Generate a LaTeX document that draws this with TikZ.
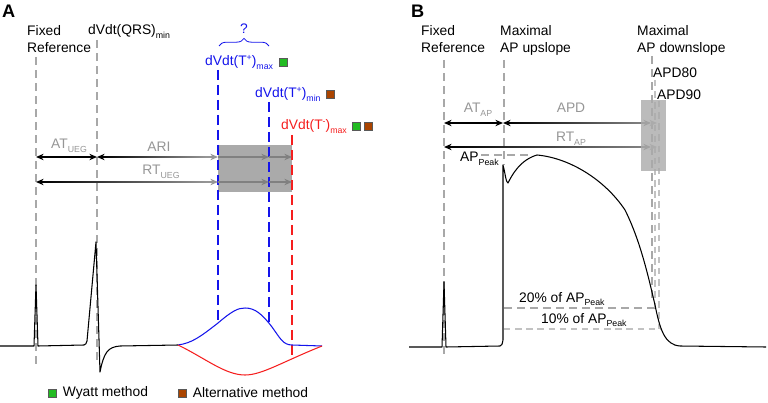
\documentclass[tikz,border=0pt]{standalone}
\usepackage{fontspec}
\setmainfont{Liberation Sans}
\usetikzlibrary{positioning,calc,arrows.meta,decorations.pathreplacing}

\definecolor{wyattgreen}{RGB}{34,187,34}
\definecolor{altbrown}{RGB}{170,68,0}
\definecolor{lblgray}{RGB}{150,150,150}
\definecolor{refgray}{RGB}{168,168,168}
\definecolor{boxgray}{RGB}{170,170,170}
\definecolor{tblue}{RGB}{20,20,235}
\definecolor{tred}{RGB}{245,30,30}

\newcommand{\subtxt}[1]{\raisebox{-.45ex}{\fontsize{7.5}{8}\selectfont #1}}
\newcommand{\suptxt}[1]{\raisebox{.75ex}{\fontsize{7.5}{8}\selectfont #1}}

\tikzset{
  refline/.style={draw=refgray,line width=1pt,dash pattern=on 6.8pt off 4.3pt},
  thinref/.style={draw=refgray!70,line width=.9pt,dash pattern=on 5.5pt off 4pt},
  tline/.style={line width=1.2pt,dash pattern=on 8.5pt off 4.3pt},
  trace/.style={line width=.9pt,line join=round},
  dbl/.style={line width=1pt,{Stealth[length=6.5pt,width=5.5pt]}-{Stealth[length=6.5pt,width=5.5pt]}},
  sgl/.style={line width=1pt,-{Stealth[length=6.5pt,width=5.5pt]}},
  sqbox/.style={draw=gray!70!black,line width=.5pt,minimum size=6.8pt},
  lbl/.style={text=lblgray,anchor=base}
}

\begin{document}
\begin{tikzpicture}[x=0.03cm,y=-0.03cm,
    every node/.style={inner sep=0pt},
    font=\fontsize{11.8}{14.5}\selectfont]
  \useasboundingbox (0,0) rectangle (768,403);

  % ---- panel A ----
  \node[anchor=north west,font=\bfseries\fontsize{15.5}{16}\selectfont] (lblA) at (2,5) {A};
  \node[anchor=north west,align=left] (fixA) at (27,25) {Fixed\\Reference};
  \node[anchor=base west] (qrs) at (88,35) {dVdt(QRS)\subtxt{min}};
  \node[text=tblue] (quest) at (244,29) {?};
  \node[text=tblue,anchor=base west] (tpmax) at (205,66) {dVdt(T\suptxt{+})\subtxt{max}};
  \node[text=tblue,anchor=base west] (tpmin) at (255,98) {dVdt(T\suptxt{+})\subtxt{min}};
  \node[text=tred,anchor=base west] (tmmax) at (281,130) {dVdt(T\suptxt{-})\subtxt{max}};
  \node[sqbox,fill=wyattgreen,right=4.5pt of tpmax] (sq1) {};
  \node[sqbox,fill=altbrown,right=4.5pt of tpmin] (sq2) {};
  \node[sqbox,fill=wyattgreen,right=4.5pt of tmmax] (sq3) {};
  \node[sqbox,fill=altbrown,right=3pt of sq3] (sq4) {};

  \coordinate (brL) at (219,46);
  \coordinate (brR) at (269,46);
  \draw[tblue,line width=.7pt,decorate,decoration={brace,amplitude=6.5pt}] (brL) -- (brR);

  \fill[boxgray] (218,145) rectangle (292,192);

  \coordinate (fA1) at (36,57);   \coordinate (fA2) at (36,365);
  \coordinate (qA1) at (97,40);   \coordinate (qA2) at (97,362);
  \coordinate (bA1) at (218,70);  \coordinate (bA2) at (218,323);
  \coordinate (cA1) at (269,102); \coordinate (cA2) at (269,322);
  \coordinate (rA1) at (292,135); \coordinate (rA2) at (292,357);
  \foreach \from/\to in {fA1/fA2, qA1/qA2}
    \draw[refline] (\from) -- (\to);
  \draw[tline,tblue] (bA1) -- (bA2);
  \draw[tline,tblue] (cA1) -- (cA2);
  \draw[tline,tred] (rA1) -- (rA2);

  \node[lbl] (atueg) at (69,149) {AT\subtxt{UEG}};
  \node[lbl] (ari) at (159,152) {ARI};
  \node[lbl] (rtueg) at (161,175) {RT\subtxt{UEG}};

  \coordinate (a1) at (36,157);  \coordinate (a2) at (97,157);
  \coordinate (a3) at (218,157); \coordinate (a4) at (269,157);
  \coordinate (a5) at (292,157);
  \coordinate (c1) at (36,182);  \coordinate (c3) at (218,182);
  \coordinate (c4) at (269,182); \coordinate (c5) at (292,182);
  \draw[dbl] (a1) -- (a2);
  \draw[dbl,lblgray,{Stealth[length=6.5pt,width=5.5pt,black]}-{Stealth[length=6.5pt,width=5.5pt]}] (a2) -- (a3);
  \shade[left color=black,right color=lblgray] ($(a2)+(5,-.6)$) rectangle ($(a3)+(-12,.6)$);
  \draw[dbl,lblgray,{Stealth[length=6.5pt,width=5.5pt,black]}-{Stealth[length=6.5pt,width=5.5pt]}] (c1) -- (c3);
  \shade[left color=black,right color=lblgray] ($(c1)+(5,-.6)$) rectangle ($(c3)+(-12,.6)$);
  \foreach \from/\to in {a3/a4, a4/a5, c3/c4, c4/c5}
    \draw[sgl,gray] (\from) -- (\to);

  % ECG trace and T waves
  \draw[trace] (0,346) -- (34,346) -- (36,285) -- (38,346) -- (84,345)
    .. controls (86,344) .. (87,341) -- (96,242) -- (100,372)
    .. controls (104,352) and (108,347) .. (120,346) -- (178,345);
  \draw[trace,tblue] (178,345) .. controls (192,343) and (200,337) .. (218,323)
    .. controls (232,311) and (238,308) .. (245,308)
    .. controls (255,308) and (262,314) .. (272,327)
    .. controls (280,338) and (283,345) .. (292,345) -- (322,346);
  \draw[trace,tred] (178,345) .. controls (205,358) and (225,375) .. (245,375)
    .. controls (262,375) and (282,362) .. (322,346);

  \node[sqbox,fill=wyattgreen] (legW) at (52.5,393) {};
  \node[right=5pt of legW] (legWt) {Wyatt method};
  \node[sqbox,fill=altbrown] (legA) at (182.5,393) {};
  \node[right=5pt of legA] (legAt) {Alternative method};

  % ---- panel B ----
  \node[anchor=north west,font=\bfseries\fontsize{15.5}{16}\selectfont] (lblB) at (411,5) {B};
  \node[anchor=north west,align=left] (fixB) at (421,25) {Fixed\\Reference};
  \node[anchor=north west,align=left] (upB) at (500,25) {Maximal\\AP upslope};
  \node[anchor=north west,align=left] (downB) at (637,25) {Maximal\\AP downslope};
  \node[anchor=base west] (apd80) at (653,78) {APD80};
  \node[anchor=base west] (apd90) at (657,100) {APD90};

  \coordinate (fB1) at (444,60);  \coordinate (fB2) at (444,355);
  \coordinate (uB1) at (504,60);  \coordinate (uB2) at (504,165);
  \coordinate (dB1) at (652,56);  \coordinate (dB2) at (652,300);
  \coordinate (p80a) at (655,80); \coordinate (p80b) at (655,308);
  \coordinate (p90a) at (659,101); \coordinate (p90b) at (659,329);
  \coordinate (pk1) at (481,155); \coordinate (pk2) at (531,155);
  \coordinate (l20a) at (504,308); \coordinate (l20b) at (656,308);
  \coordinate (l10a) at (504,329); \coordinate (l10b) at (660,329);
  \foreach \from/\to in {fB1/fB2, uB1/uB2, dB1/dB2, pk1/pk2, l20a/l20b}
    \draw[refline] (\from) -- (\to);
  \foreach \from/\to in {p80a/p80b, p90a/p90b, l10a/l10b}
    \draw[thinref] (\from) -- (\to);

  \node[lbl] (atap) at (478,113) {AT\subtxt{AP}};
  \node[lbl] (apd) at (571,113) {APD};
  \node[lbl] (rtap) at (571,142) {RT\subtxt{AP}};
  \node[anchor=base west] (appk) at (460,162) {AP\subtxt{Peak}};
  \node[anchor=base west] (pc20) at (519,302) {20\% of AP\subtxt{Peak}};
  \node[anchor=base west] (pc10) at (541,323) {10\% of AP\subtxt{Peak}};

  \coordinate (e1) at (444,123); \coordinate (e2) at (503,123);
  \coordinate (e3) at (651,123); \coordinate (e4) at (657,123);
  \coordinate (g1) at (444,147); \coordinate (g3) at (651,147);
  \coordinate (g4) at (657,147);
  \draw[dbl] (e1) -- (e2);
  \draw[dbl,gray,{Stealth[length=6.5pt,width=5.5pt,black]}-{Stealth[length=6.5pt,width=5.5pt]}] (e2) -- (e3);
  \shade[left color=black,right color=gray] ($(e2)+(5,-.6)$) rectangle ($(e3)+(-12,.6)$);
  \draw[dbl,gray,{Stealth[length=6.5pt,width=5.5pt,black]}-{Stealth[length=6.5pt,width=5.5pt]}] (g1) -- (g3);
  \shade[left color=black,right color=gray] ($(g1)+(5,-.6)$) rectangle ($(g3)+(-12,.6)$);
  \foreach \from/\to in {e3/e4, g3/g4}
    \draw[sgl,gray!60] (\from) -- (\to);

  \fill[boxgray,opacity=.8] (641,100) rectangle (666,171);

  % action potential
  \draw[trace] (409,347) -- (442,347) -- (444,282) -- (446,347) -- (500,346)
    .. controls (502,345) .. (503,340) -- (503,165)
    .. controls (505,172) and (506,183) .. (508,183)
    .. controls (512,175) and (520,160) .. (537,155)
    .. controls (570,158) and (605,180) .. (625,210)
    .. controls (640,240) and (648,275) .. (655,305)
    .. controls (660,330) and (665,345) .. (680,346) -- (766,347);
\end{tikzpicture}
\end{document}
